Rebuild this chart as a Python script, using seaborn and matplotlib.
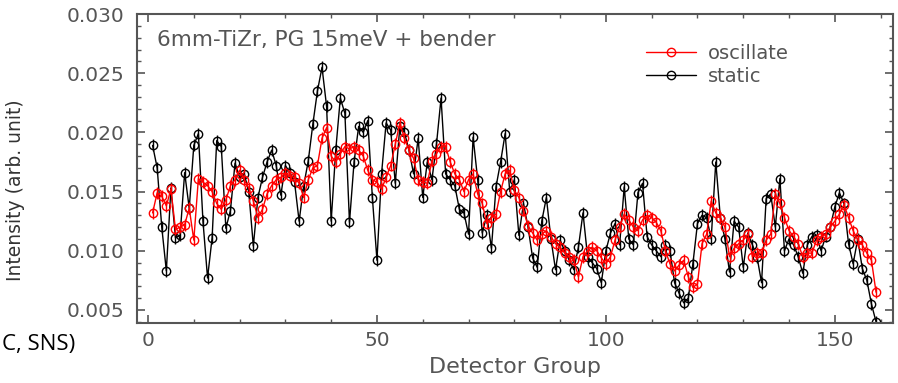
import numpy as np
import pandas as pd
import matplotlib
matplotlib.use('Agg')
import matplotlib.pyplot as plt
import matplotlib.ticker as mticker
import seaborn as sns

# DADOS (grupos de detector 1..159)
static = [
    0.0189, 0.0170, 0.0120, 0.0083, 0.0153, 0.0111, 0.0113, 0.0166, 0.0136, 0.0189,
    0.0199, 0.0125, 0.0077, 0.0111, 0.0193, 0.0188, 0.0119, 0.0134, 0.0174, 0.0162,
    0.0165, 0.0150, 0.0104, 0.0145, 0.0162, 0.0175, 0.0185, 0.0172, 0.0147, 0.0172,
    0.0166, 0.0158, 0.0125, 0.0155, 0.0176, 0.0207, 0.0235, 0.0255, 0.0222, 0.0125,
    0.0185, 0.0229, 0.0216, 0.0124, 0.0175, 0.0205, 0.0200, 0.0210, 0.0145, 0.0092,
    0.0165, 0.0208, 0.0202, 0.0157, 0.0205, 0.0200, 0.0185, 0.0165, 0.0195, 0.0145,
    0.0175, 0.0160, 0.0190, 0.0229, 0.0165, 0.0160, 0.0155, 0.0135, 0.0132, 0.0114,
    0.0196, 0.0160, 0.0115, 0.0130, 0.0102, 0.0154, 0.0175, 0.0199, 0.0150, 0.0160,
    0.0113, 0.0140, 0.0120, 0.0094, 0.0086, 0.0125, 0.0145, 0.0110, 0.0084, 0.0109,
    0.0100, 0.0092, 0.0084, 0.0103, 0.0132, 0.0095, 0.0090, 0.0085, 0.0073, 0.0100,
    0.0115, 0.0123, 0.0105, 0.0154, 0.0110, 0.0105, 0.0149, 0.0157, 0.0112, 0.0105,
    0.0100, 0.0095, 0.0105, 0.0100, 0.0073, 0.0064, 0.0056, 0.0060, 0.0089, 0.0123,
    0.0130, 0.0128, 0.0110, 0.0175, 0.0128, 0.0110, 0.0082, 0.0125, 0.0120, 0.0086,
    0.0115, 0.0105, 0.0095, 0.0073, 0.0144, 0.0148, 0.0120, 0.0161, 0.0100, 0.0110,
    0.0105, 0.0095, 0.0081, 0.0105, 0.0112, 0.0113, 0.0100, 0.0112, 0.0120, 0.0137,
    0.0149, 0.0140, 0.0106, 0.0089, 0.0110, 0.0085, 0.0075, 0.0055, 0.0040,
]
oscillate = [
    0.0132, 0.0149, 0.0146, 0.0138, 0.0152, 0.0118, 0.0120, 0.0122, 0.0136, 0.0109,
    0.0161, 0.0158, 0.0155, 0.0150, 0.0140, 0.0135, 0.0143, 0.0155, 0.0160, 0.0168,
    0.0160, 0.0153, 0.0142, 0.0128, 0.0135, 0.0148, 0.0155, 0.0160, 0.0162, 0.0166,
    0.0163, 0.0162, 0.0157, 0.0145, 0.0160, 0.0170, 0.0172, 0.0195, 0.0204, 0.0180,
    0.0175, 0.0182, 0.0188, 0.0186, 0.0188, 0.0185, 0.0180, 0.0168, 0.0160, 0.0158,
    0.0152, 0.0162, 0.0172, 0.0190, 0.0208, 0.0195, 0.0185, 0.0178, 0.0160, 0.0158,
    0.0157, 0.0176, 0.0182, 0.0188, 0.0188, 0.0175, 0.0165, 0.0160, 0.0150, 0.0160,
    0.0165, 0.0148, 0.0140, 0.0123, 0.0128, 0.0131, 0.0150, 0.0165, 0.0168, 0.0151,
    0.0145, 0.0134, 0.0121, 0.0115, 0.0109, 0.0114, 0.0117, 0.0112, 0.0106, 0.0103,
    0.0098, 0.0095, 0.0092, 0.0078, 0.0095, 0.0100, 0.0103, 0.0100, 0.0094, 0.0089,
    0.0095, 0.0109, 0.0120, 0.0131, 0.0126, 0.0120, 0.0117, 0.0126, 0.0130, 0.0128,
    0.0124, 0.0117, 0.0100, 0.0089, 0.0083, 0.0088, 0.0092, 0.0078, 0.0069, 0.0072,
    0.0106, 0.0114, 0.0142, 0.0132, 0.0128, 0.0120, 0.0095, 0.0102, 0.0106, 0.0109,
    0.0114, 0.0095, 0.0098, 0.0098, 0.0109, 0.0114, 0.0148, 0.0140, 0.0128, 0.0117,
    0.0112, 0.0106, 0.0095, 0.0098, 0.0098, 0.0109, 0.0112, 0.0114, 0.0120, 0.0125,
    0.0131, 0.0139, 0.0128, 0.0117, 0.0109, 0.0105, 0.0098, 0.0092, 0.0065,
]
grupos = np.arange(1, len(static) + 1)
erro = 0.0005  # barra de erro (aprox.)

df = pd.DataFrame({'Grupo': grupos, 'static': static, 'oscillate': oscillate})

sns.set_style('ticks')
plt.rcParams['font.family'] = ['DejaVu Sans']
cinza = '#555555'

fig = plt.figure(figsize=(8.98, 3.83), dpi=100)
ax = fig.add_axes([0.1526, 0.1567, 0.8418, 0.8067])

cores = {'static': 'black', 'oscillate': 'red'}
for serie in ['static', 'oscillate']:
    cor = cores[serie]
    sns.lineplot(data=df, x='Grupo', y=serie, ax=ax, color=cor, lw=1.0,
                 marker='o', ms=6, mfc='none', mec=cor, mew=1.0, label=serie)
    ax.errorbar(df['Grupo'], df[serie], yerr=erro, fmt='none',
                ecolor=cor, elinewidth=1.0, capsize=0)

ax.set_xlim(-2.4, 162.7)
ax.set_ylim(0.0039, 0.030)
ax.xaxis.set_major_locator(mticker.MultipleLocator(50))
ax.xaxis.set_minor_locator(mticker.MultipleLocator(10))
ax.yaxis.set_major_locator(mticker.MultipleLocator(0.005))
ax.yaxis.set_minor_locator(mticker.MultipleLocator(0.001))
ax.yaxis.set_major_formatter(mticker.FormatStrFormatter('%.3f'))
ax.tick_params(which='both', direction='in', top=True, right=True,
               colors=cinza, labelsize=14.5, labelcolor=cinza)
ax.tick_params(which='major', length=6, width=1.2)
ax.tick_params(which='minor', length=3, width=1.0)
ax.tick_params(axis='y', pad=9)
ax.tick_params(axis='x', pad=6)
for sp in ax.spines.values():
    sp.set_color(cinza)
    sp.set_linewidth(1.5)

ax.set_xlabel('Detector Group', fontsize=16, color=cinza)
ax.xaxis.set_label_coords(0.5, -0.11)
ax.set_ylabel('Intensity (arb. unit)', fontsize=13.5, color='#333333')
ax.yaxis.set_label_coords(-0.148, 0.43)

ax.text(0.026, 0.915, '6mm-TiZr, PG 15meV + bender', transform=ax.transAxes,
        fontsize=15.5, color=cinza, va='center')

h, l = ax.get_legend_handles_labels()
ordem = [l.index('oscillate'), l.index('static')]
ax.legend([h[i] for i in ordem], [l[i] for i in ordem], loc='upper left',
          bbox_to_anchor=(0.65, 0.96), frameon=False, fontsize=14,
          handlelength=2.6, handletextpad=0.6, labelcolor=cinza,
          labelspacing=0.2)

fig.text(0.002, 0.1, 'C, SNS)', fontsize=16, color='black', va='center',
         family=['Open Sans', 'DejaVu Sans'])

fig.savefig('out.png', dpi=100)
